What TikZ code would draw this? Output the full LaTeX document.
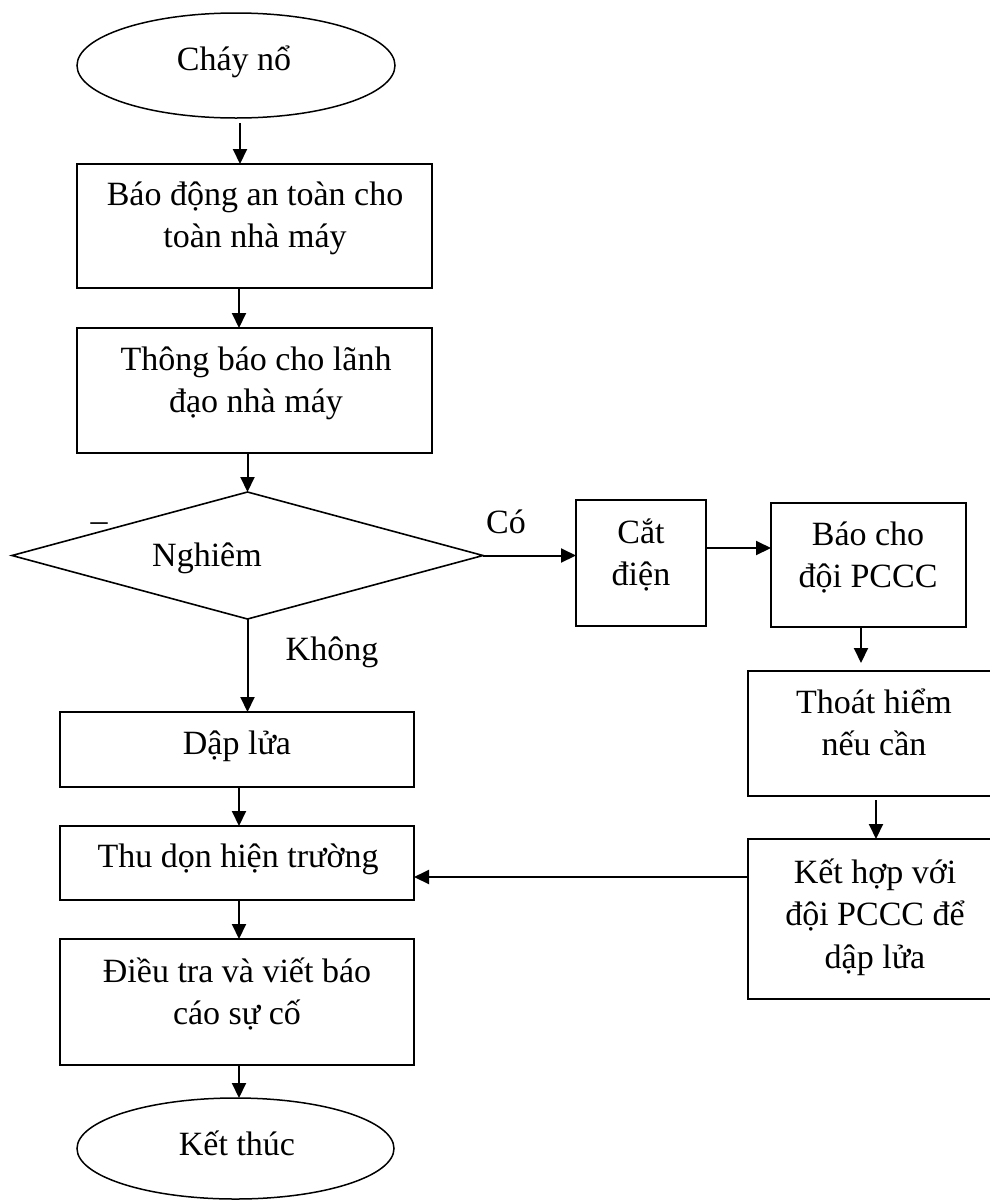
\documentclass[tikz,border=0pt]{standalone}
\usepackage{fontspec}
\setmainfont{Liberation Serif}
\usetikzlibrary{arrows.meta,shapes.geometric}
\begin{document}
\begin{tikzpicture}[x=1pt,y=-1pt,
  every node/.style={inner sep=0pt, outer sep=0pt},
  boxnode/.style={draw, rectangle, line width=2pt},
  ovalnode/.style={draw, ellipse, line width=1.5pt},
  decnode/.style={draw, diamond, line width=1.6pt},
  arr/.style={line width=2pt, -{Triangle[length=15pt,width=14pt]}},
  txt/.style={anchor=base, font=\fontsize{34}{42.5}\selectfont}
]
\useasboundingbox (0,0) rectangle (990,1200);
\clip (0,0) rectangle (990,1200);

% shapes
\node[ovalnode, minimum width=318, minimum height=105] (e1) at (236,65.5) {};
\node[boxnode, minimum width=355, minimum height=124] (b1) at (254.5,226) {};
\node[boxnode, minimum width=355, minimum height=125] (b2) at (254.5,390.5) {};
\node[decnode, minimum width=471, minimum height=127] (dia) at (247.5,555.5) {};
\node[boxnode, minimum width=130, minimum height=126] (cat) at (641,563) {};
\node[boxnode, minimum width=195, minimum height=124] (bao) at (868.5,565) {};
\node[boxnode, minimum width=253, minimum height=125] (thoat) at (874.5,733.5) {};
\node[boxnode, minimum width=253, minimum height=160] (ket) at (874.5,919) {};
\node[boxnode, minimum width=354, minimum height=75] (dap) at (237,749.5) {};
\node[boxnode, minimum width=354, minimum height=74] (thu) at (237,863) {};
\node[boxnode, minimum width=354, minimum height=126] (dieu) at (237,1002) {};
\node[ovalnode, minimum width=317, minimum height=101] (e2) at (235.5,1148.5) {};

% texts
\node[txt] (t1) at (234,70) {Cháy nổ};
\node[txt] (t2) at (255,205) {\begin{tabular}[t]{@{}c@{}}Báo động an toàn cho\\toàn nhà máy\end{tabular}};
\node[txt] (t3) at (256,370) {\begin{tabular}[t]{@{}c@{}}Thông báo cho lãnh\\đạo nhà máy\end{tabular}};
\node[txt] (tdash) at (99,531) {–};
\node[txt] (t4) at (207,566) {Nghiêm};
\node[txt] (tco) at (506,533) {Có};
\node[txt] (tkhong) at (332,660) {Không};
\node[txt] (t5) at (641,543) {\begin{tabular}[t]{@{}c@{}}Cắt\\điện\end{tabular}};
\node[txt] (t6) at (868,545) {\begin{tabular}[t]{@{}c@{}}Báo cho\\đội PCCC\end{tabular}};
\node[txt] (t7) at (874,713) {\begin{tabular}[t]{@{}c@{}}Thoát hiểm\\nếu cần\end{tabular}};
\node[txt] (t8) at (875,883) {\begin{tabular}[t]{@{}c@{}}Kết hợp với\\đội PCCC để\\dập lửa\end{tabular}};
\node[txt] (t9) at (237,754) {Dập lửa};
\node[txt] (t10) at (238,867) {Thu dọn hiện trường};
\node[txt] (t11) at (237,982) {\begin{tabular}[t]{@{}c@{}}Điều tra và viết báo\\cáo sự cố\end{tabular}};
\node[txt] (t12) at (237,1155) {Kết thúc};

% connectors
\draw[arr, shorten <=5pt] ([xshift=4pt]e1.south) -- ([xshift=4pt]e1.south |- b1.north);
\draw[arr] ([xshift=-15.5pt]b1.south) -- ([xshift=-15.5pt]b1.south |- b2.north);
\draw[arr] (dia.north |- b2.south) -- (dia.north);
\draw[arr] (dia.east) -- (dia.east -| cat.west);
\draw[arr] ([yshift=15pt]cat.east) -- ([yshift=15pt]cat.east -| bao.west);
\draw[arr, shorten >=8pt] ([xshift=-7.5pt]bao.south) -- ([xshift=-7.5pt]bao.south |- thoat.north);
\draw[arr, shorten <=4pt] ([xshift=1.5pt]thoat.south) -- ([xshift=1.5pt]thoat.south |- ket.north);
\draw[arr] ([yshift=42pt]ket.west) -- ([yshift=42pt]ket.west -| thu.east);
\draw[arr] (dia.south) -- (dia.south |- dap.north);
\draw[arr] ([xshift=2pt]dap.south) -- ([xshift=2pt]dap.south |- thu.north);
\draw[arr] ([xshift=2pt]thu.south) -- ([xshift=2pt]thu.south |- dieu.north);
\draw[arr] ([xshift=2pt]dieu.south) -- ([xshift=2pt]dieu.south |- e2.north);
\end{tikzpicture}
\end{document}
